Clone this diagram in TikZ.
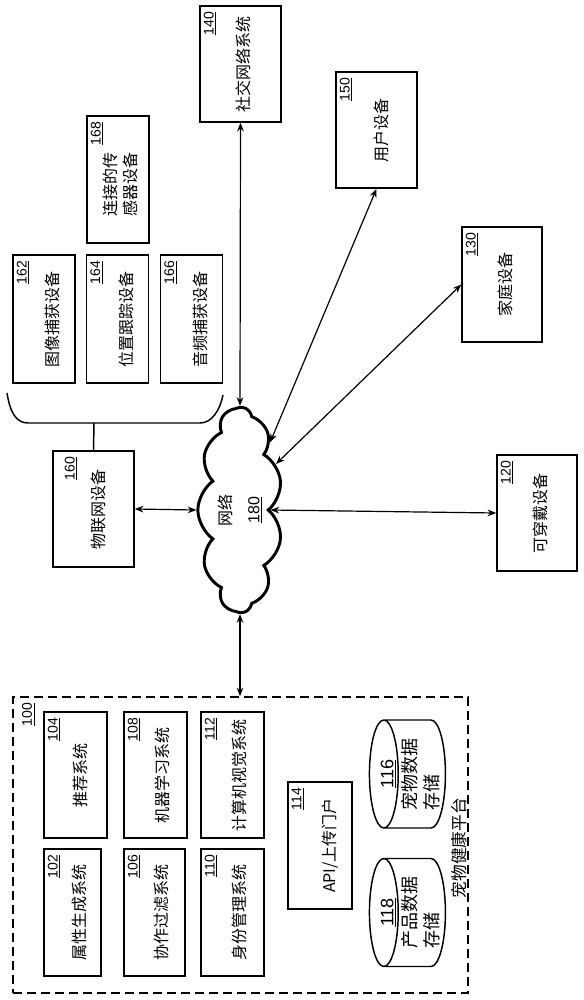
\documentclass[tikz,border=0pt]{standalone}
\usepackage{fontspec}
\setmainfont{Liberation Sans}
\newfontfamily\cjk{Noto Sans CJK SC}
\usetikzlibrary{arrows.meta,shapes.geometric,shapes.symbols}
\newcommand\refno[1]{{\rmfamily\underline{#1}}}
\tikzset{every picture/.style={line width=0.75pt}}
\tikzset{
  sysbox/.style={draw, rotate=90, line width=1.1pt, inner sep=2pt, align=center, text height=20pt, font=\cjk\fontsize{12}{15}\selectfont},
  refnum/.style={rotate=90, inner xsep=4.5pt, inner ysep=3pt, font=\fontsize{10.5}{12}\selectfont},
  datastore/.style={draw, cylinder, rotate=90, shape border rotate=90, line width=1.1pt, aspect=0.4, inner sep=0pt, minimum width=81pt, minimum height=57pt, font=\cjk\fontsize{13.5}{17}\selectfont},
  biarrow/.style={{Stealth[length=6.5pt,width=5pt]}-{Stealth[length=6.5pt,width=5pt]}, line width=0.9pt},
}

\begin{document}
\begin{tikzpicture}[x=0.75pt,y=0.75pt,yscale=-1,xscale=1]
\useasboundingbox (0,0) rectangle (583,1000);

%Shape: Rectangle [id:platform]
\node [draw, line width=1.1pt, dash pattern={on 6.75pt off 3.75pt}, minimum width=341.25pt, minimum height=222pt] (plat) at (240.5,845) {};
\node [refnum, anchor=north east] (n100) at ([xshift=4pt]plat.north west) {\refno{100}};
% Text Node
\node [rotate=90, font=\cjk\fontsize{12.5}{15}\selectfont] (lplat) at (459,848) {宠物健康平台};

%Shape: Rectangle [id:systems]
\node [sysbox, minimum width=94.5pt, minimum height=47.25pt, text height=18pt] (b104) at (75.5,775) {推荐系统};
\node [refnum, anchor=north east] (n104) at (b104.north east) {\refno{104}};
\node [sysbox, minimum width=95.25pt, minimum height=42.75pt] (b102) at (72.5,912.5) {属性生成系统};
\node [refnum, anchor=north east] (n102) at (b102.north east) {\refno{102}};
\node [sysbox, minimum width=94.5pt, minimum height=47.25pt] (b108) at (155.5,775) {机器学习系统};
\node [refnum, anchor=north east] (n108) at (b108.north east) {\refno{108}};
\node [sysbox, minimum width=95.25pt, minimum height=45.75pt] (b106) at (154.5,912.5) {协作过滤系统};
\node [refnum, anchor=north east] (n106) at (b106.north east) {\refno{106}};
\node [sysbox, minimum width=94.5pt, minimum height=47.25pt] (b112) at (232.5,775) {计算机视觉系统};
\node [refnum, anchor=north east] (n112) at (b112.north east) {\refno{112}};
\node [sysbox, minimum width=95.25pt, minimum height=47.25pt] (b110) at (232.5,912.5) {身份管理系统};
\node [refnum, anchor=north east] (n110) at (b110.north east) {\refno{110}};
\node [sysbox, minimum width=95.25pt, minimum height=48pt, text height=26pt] (b114) at (320,845.5) {API/上传门户};
\node [refnum, anchor=north east] (n114) at (b114.north east) {\refno{114}};

%Shape: Can [id:stores]
\node [datastore] (c116) at (415,774) {\smash{\raisebox{-1pt}{\begin{tabular}{@{}l@{}}\multicolumn{1}{@{}c@{}}{\refno{116}}\\宠物数据\\存储\end{tabular}}}};
\node [datastore] (c118) at (415,912.5) {\smash{\raisebox{-1pt}{\begin{tabular}{@{}l@{}}\multicolumn{1}{@{}c@{}}{\refno{118}}\\产品数据\\存储\end{tabular}}}};

%Shape: Cloud [id:network]
\node [draw, cloud, rotate=90, cloud puffs=11, cloud puff arc=110, aspect=2.6, line width=2.2pt, minimum width=153.75pt, minimum height=58.5pt, inner sep=0pt, align=center, font=\cjk\fontsize{12}{15}\selectfont] (net) at (240,510) {网络\\[6pt]\refno{180}};

%Shape: Rectangle [id:devices]
\node [sysbox, minimum width=87pt, minimum height=60.75pt, text height=18pt] (b160) at (93.5,509) {物联网设备};
\node [refnum, anchor=north east] (n160) at ([xshift=6pt]b160.north east) {\refno{160}};
\node [sysbox, minimum width=96pt, minimum height=46.5pt, text height=23pt] (b162) at (44,319) {图像捕获设备};
\node [refnum, anchor=north east] (n162) at (b162.north east) {\refno{162}};
\node [sysbox, minimum width=96pt, minimum height=46.5pt, text height=23pt] (b164) at (117.5,319) {位置跟踪设备};
\node [refnum, anchor=north east] (n164) at (b164.north east) {\refno{164}};
\node [sysbox, minimum width=96pt, minimum height=46.5pt, text height=23pt] (b166) at (191.5,319) {音频捕获设备};
\node [refnum, anchor=north east] (n166) at (b166.north east) {\refno{166}};
\node [sysbox, minimum width=95.25pt, minimum height=46.5pt, text height=25pt] (b168) at (118,179.5) {\begin{tabular}{@{}c@{}}连接的传\\感器设备\end{tabular}\hspace*{7.5pt}};
\node [refnum, anchor=north east] (n168) at (b168.north east) {\refno{168}};
\node [sysbox, minimum width=87pt, minimum height=60.75pt, text height=15pt] (b140) at (240.5,64) {社交网络系统};
\node [refnum, anchor=north east] (n140) at (b140.north east) {\refno{140}};
\node [sysbox, minimum width=87pt, minimum height=60.75pt, text height=18pt] (b150) at (376.5,130) {用户设备};
\node [refnum, anchor=north east] (n150) at (b150.north east) {\refno{150}};
\node [sysbox, minimum width=86.25pt, minimum height=60pt, text height=15pt] (b130) at (502,284.5) {家庭设备};
\node [refnum, anchor=north east] (n130) at (b130.north east) {\refno{130}};
\node [sysbox, minimum width=87pt, minimum height=60pt, text height=15pt] (b120) at (537,513) {可穿戴设备};
\node [refnum, anchor=north east] (n120) at (b120.north east) {\refno{120}};

%Shape: Brace [id:group]
\draw [line width=1.1pt] (7,393) .. controls (10,412) and (16,423) .. (28,423) -- (200,423) .. controls (212,423) and (220,410) .. (223,395) ;
\coordinate (brk) at (94,423);
\draw [line width=1.1pt] (brk) -- (b160.east) ;

%Straight Lines [id:links]
\draw [biarrow] (b160.south) -- (net.north) ;
\draw [biarrow] (net.south) -- (b120.north) ;
\draw [biarrow] (net.west) -- (net.west |- plat.north) ;
\draw [biarrow] (b140.west) -- (net.east) ;
\draw [biarrow] (net.-24) -- (b150.west) ;
\draw [biarrow] (net.-38) -- (b130.north) ;

\end{tikzpicture}
\end{document}
